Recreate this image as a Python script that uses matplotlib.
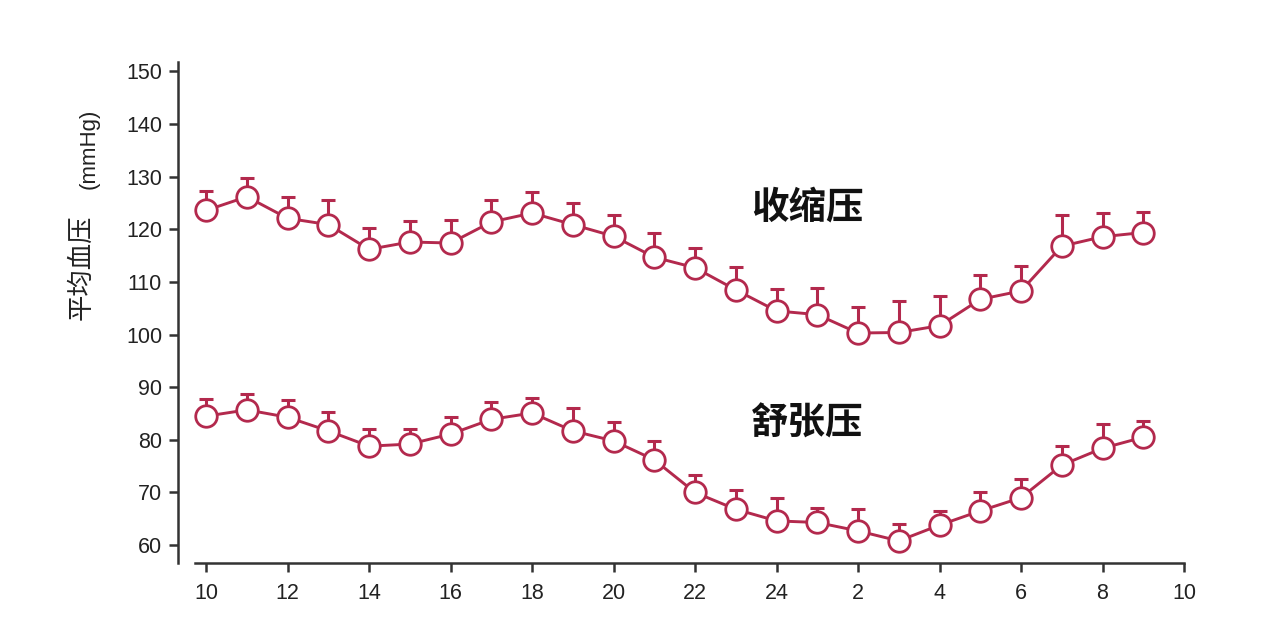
import matplotlib
matplotlib.use("Agg")
import matplotlib.pyplot as plt
import numpy as np

# hours (10 .. 33, where 24+ means next day)
hours = list(range(10, 34))
systolic = [123.6, 126.2, 122.1, 120.9, 116.2, 117.6, 117.4, 121.4, 123.1, 120.9,
            118.7, 114.7, 112.7, 108.5, 104.5, 103.8, 100.3, 100.4, 101.7, 106.7,
            108.3, 116.8, 118.6, 119.4]
systolic_err = [3.6, 3.5, 4.0, 4.6, 4.1, 3.9, 4.3, 4.1, 4.0, 4.1,
                4.1, 4.6, 3.8, 4.4, 4.2, 5.0, 4.9, 5.9, 5.7, 4.7,
                4.7, 6.0, 4.5, 3.9]
diastolic = [84.5, 85.7, 84.3, 81.7, 78.8, 79.2, 81.1, 83.9, 85.1, 81.7,
             79.8, 76.2, 70.0, 66.8, 64.6, 64.3, 62.7, 60.8, 63.8, 66.5,
             69.0, 75.2, 78.4, 80.5]
diastolic_err = [3.2, 3.0, 3.3, 3.6, 3.2, 2.9, 3.3, 3.3, 2.9, 4.4,
                 3.6, 3.5, 3.4, 3.7, 4.3, 2.7, 4.1, 3.2, 2.6, 3.5,
                 3.6, 3.6, 4.6, 3.1]

xtick_pos = list(range(10, 35, 2))
xtick_labels = ["10", "12", "14", "16", "18", "20", "22", "24", "2", "4", "6", "8", "10"]
ytick_pos = list(range(60, 151, 10))

color = "#b3294d"
axis_color = "#333333"

fig = plt.figure(figsize=(12.64, 6.36), dpi=100)
fig.patch.set_facecolor("white")
ax = fig.add_axes([178 / 1264, 1 - 563 / 636, (1184 - 178) / 1264, (563 - 62) / 636])

for vals, errs in [(systolic, systolic_err), (diastolic, diastolic_err)]:
    ax.errorbar(hours, vals, yerr=[np.zeros(len(errs)), errs], fmt="none",
                ecolor=color, elinewidth=2.2, capsize=4.8, capthick=2.2, zorder=2)
    ax.plot(hours, vals, color=color, lw=2.1, marker="o", markersize=15.5,
            markerfacecolor="white", markeredgecolor=color, markeredgewidth=2.0, zorder=3)

ax.set_xlim(9.31, 34.0)
ax.set_ylim(56.6, 151.8)
ax.set_xticks(xtick_pos)
ax.set_xticklabels(xtick_labels)
ax.set_yticks(ytick_pos)

for side in ["top", "right"]:
    ax.spines[side].set_visible(False)
ax.spines["left"].set_color(axis_color)
ax.spines["bottom"].set_color(axis_color)
ax.spines["left"].set_linewidth(1.8)
ax.spines["bottom"].set_linewidth(1.8)
ax.spines["bottom"].set_bounds(9.73, 34.0)

ax.tick_params(axis="both", colors=axis_color, width=1.8, length=6.5,
               labelsize=15.5, labelcolor="#222222")
ax.tick_params(axis="y", pad=5)
ax.tick_params(axis="x", pad=8)
for lab in ax.get_xticklabels() + ax.get_yticklabels():
    lab.set_family("Liberation Sans")

cjk = ["Noto Sans CJK SC", "DejaVu Sans"]
fig.text(807 / 1264, 1 - 207 / 636, "收缩压", family=cjk, fontsize=27, fontweight="bold",
         ha="center", va="center", color="#111111")
fig.text(807 / 1264, 1 - 423 / 636, "舒张压", family=cjk, fontsize=27, fontweight="bold",
         ha="center", va="center", color="#111111")

fig.text(81 / 1264, 1 - 267 / 636, "平均血压", family=cjk, fontsize=19,
         rotation=90, ha="center", va="center", color="#222222")
fig.text(89 / 1264, 1 - 149 / 636, "(mmHg)", family=["Liberation Sans", "DejaVu Sans"],
         fontsize=16, rotation=90, ha="center", va="center", color="#222222")

fig.savefig("out.png", dpi=100, facecolor="white")
